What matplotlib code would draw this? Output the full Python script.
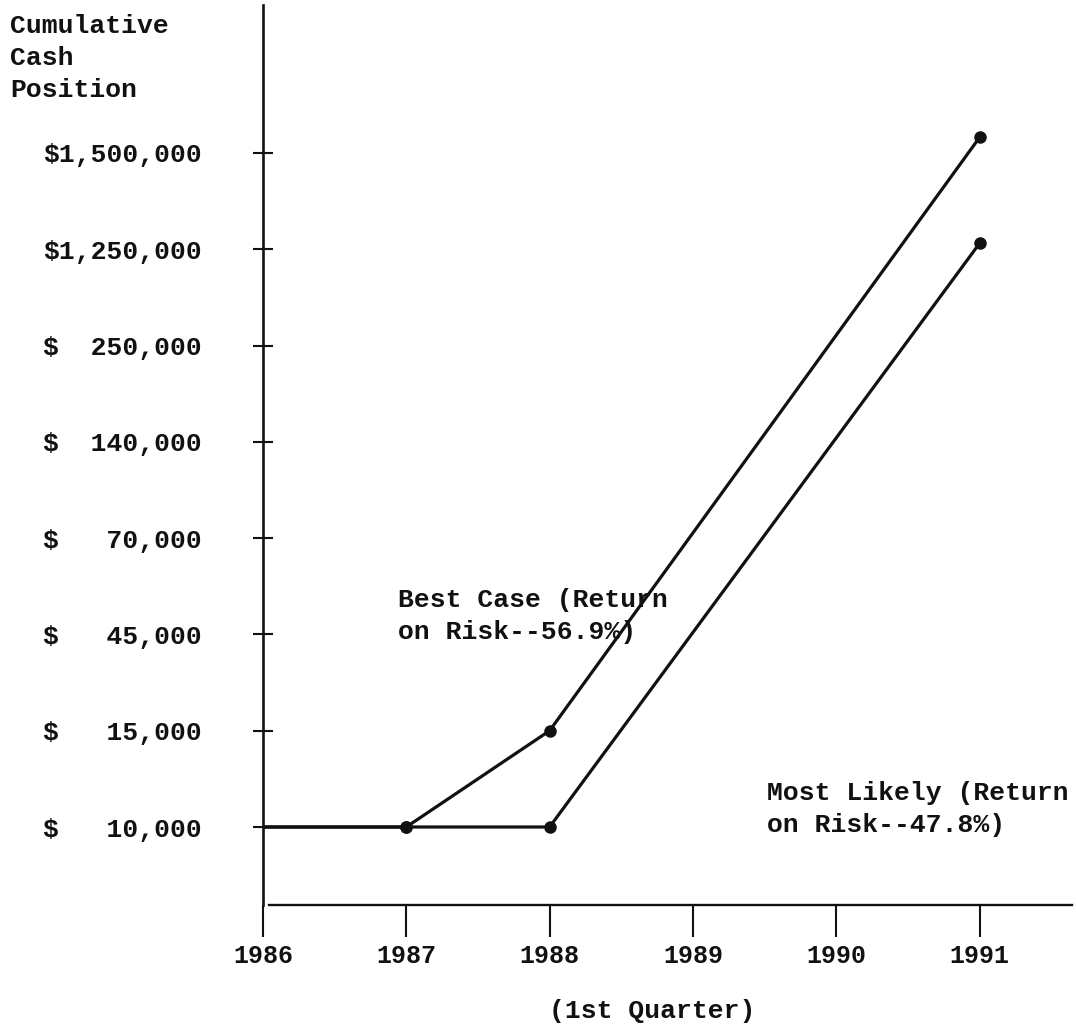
import numpy as np
import matplotlib
matplotlib.use("Agg")
import matplotlib.pyplot as plt

# y axis is a stepped (uneven) scale: each labelled value sits one step apart
tick_vals = [10000, 15000, 45000, 70000, 140000, 250000, 1250000, 1500000]
years = [1986, 1987, 1988, 1989, 1990, 1991]

best_years = [1986, 1987, 1988, 1991]
best_cash = [10000, 10000, 15000, 1540000]
likely_years = [1986, 1987, 1988, 1991]
likely_cash = [10000, 10000, 10000, 1265000]

best_label = ["Best Case (Return", "on Risk--56.9%)"]
likely_label = ["Most Likely (Return", "on Risk--47.8%)"]
ylabel_lines = ["Cumulative", "Cash", "Position"]
xlabel = "(1st Quarter)"

tv = np.array(tick_vals, float)
ti = np.arange(len(tv), dtype=float)


def forward(v):
    v = np.asarray(v, float)
    out = np.interp(v, tv, ti)
    out = np.where(v > tv[-1], ti[-1] + (v - tv[-1]) / (tv[-1] - tv[-2]), out)
    out = np.where(v < tv[0], ti[0] + (v - tv[0]) / (tv[1] - tv[0]), out)
    return out


def inverse(i):
    i = np.asarray(i, float)
    out = np.interp(i, ti, tv)
    out = np.where(i > ti[-1], tv[-1] + (i - ti[-1]) * (tv[-1] - tv[-2]), out)
    out = np.where(i < ti[0], tv[0] + (i - ti[0]) * (tv[1] - tv[0]), out)
    return out


W, H = 1076, 1036
plt.rcParams['font.family'] = ['Liberation Mono', 'DejaVu Sans Mono']
plt.rcParams['font.weight'] = 'bold'
fig = plt.figure(figsize=(W / 100, H / 100), dpi=100)
fig.patch.set_facecolor('white')

# axes box in pixels: left 263, right 1072, top 5, bottom 905
ax = fig.add_axes([263 / W, 1 - 905 / H, (1072 - 263) / W, 900 / H])
ax.set_yscale('function', functions=(forward, inverse))
ax.set_xlim(1986, 1986 + 809 / 143.3)
ax.set_ylim(inverse(-(905 - 827) / 96.3), inverse((827 - 5) / 96.3))

ink = '#111111'
ax.plot(best_years, best_cash, color=ink, lw=2.3, marker='o', ms=8,
        markevery=[1, 2, 3], solid_capstyle='butt')
ax.plot(likely_years, likely_cash, color=ink, lw=2.3, marker='o', ms=8,
        markevery=[1, 2, 3], solid_capstyle='butt')

for s in ['top', 'right']:
    ax.spines[s].set_visible(False)
ax.spines['left'].set_linewidth(1.9)
ax.spines['left'].set_color(ink)
ax.spines['bottom'].set_linewidth(1.7)
ax.spines['bottom'].set_color(ink)
ax.spines['bottom'].set_bounds(1986.04, 1986 + 809 / 143.3)

ax.set_yticks(tick_vals)
ax.set_yticklabels([f"${v:>9,}" for v in tick_vals])
ax.yaxis.set_minor_locator(matplotlib.ticker.NullLocator())
ax.tick_params(axis='y', direction='inout', length=14.4, width=1.5,
               pad=36.7, labelsize=19, colors=ink)

ax.set_xticks(years)
ax.set_xticklabels([str(y) for y in years])
ax.tick_params(axis='x', direction='out', length=23, width=1.5,
               pad=5, labelsize=18, colors=ink)


def lines_at(lines, x, y0, step, **kw):
    for k, t in enumerate(lines):
        fig.text(x / W, 1 - (y0 + k * step) / H, t, va='baseline',
                 fontsize=19, color=ink, **kw)


lines_at(ylabel_lines, 10, 33, 32)
lines_at(best_label, 398, 607, 32)
lines_at(likely_label, 767, 800, 32)
fig.text(652 / W, 1 - 1018 / H, xlabel, ha='center', va='baseline',
         fontsize=19, color=ink)

fig.savefig('out.png', dpi=100, facecolor='white')
